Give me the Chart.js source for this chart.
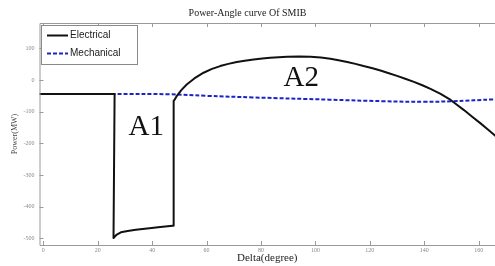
<!DOCTYPE html>
<html>
<head>
<meta charset="utf-8">
<script src="https://cdn.jsdelivr.net/npm/chart.js@4"></script>
<style>
  html, body { margin: 0; padding: 0; background: #fff; overflow: hidden; }
  #wrap { width: 495px; height: 266px; }
</style>
</head>
<body>
<div id="wrap"><canvas id="grafica" width="495" height="266"></canvas></div>
<script>
// Datos
const elecDelta = [-1.4, 26.2, 25.8, 27, 28.5, 31, 34, 39, 43, 47.5, 47.7, 47.9, 48.2, 49.1, 50.8, 52.7, 55.5, 58.9, 62, 65, 68, 71.1, 74, 77.3, 80.5, 83.4, 86.5, 89.6, 94, 98.2, 102, 105.5, 108.5, 111.7, 114.7, 117.7, 121, 123.9, 127, 130, 133, 136.2, 139.3, 142.3, 146, 149.7, 152, 154.6, 157.5, 160.7, 163.5, 166.2];
const elecPower = [-44, -44, -499, -488, -481, -477, -473, -468, -464, -460, -460, -66, -63, -50, -31, -14, 5, 23, 35, 44, 51, 57, 61, 65, 68, 70, 72, 73.5, 74, 73.5, 71, 67, 62.5, 57, 51, 44, 37, 30, 21.5, 13, 4, -6, -16.5, -28, -44, -63, -78, -95, -115, -137, -157, -177];
const mecDelta = [-1.4, 26, 46, 60, 77, 105, 125, 140, 150, 166];
const mecPower = [-44, -44, -45, -50, -55, -62, -67, -69, -67, -61];
const xTicks = [0, 20, 40, 60, 80, 100, 120, 140, 160];
const yTicks = [-500, -400, -300, -200, -100, 0, 100];
const leyenda = ["Electrical", "Mechanical"];
const areas = [{ label: "A1", x: 37.8, y: -150 }, { label: "A2", x: 94.8, y: 4 }];

const toPoints = (xs, ys) => xs.map((x, i) => ({ x: x, y: ys[i] }));

// Ejes tipo MATLAB: caja con ticks hacia dentro
const ejes = {
  id: "ejes",
  afterDraw(chart) {
    const { ctx, chartArea: a, scales } = chart;
    ctx.save();
    ctx.strokeStyle = "#9a9a9a";
    ctx.lineWidth = 1;
    ctx.beginPath();
    ctx.moveTo(a.right, a.top + 0.5); ctx.lineTo(a.left + 0.5, a.top + 0.5);
    ctx.lineTo(a.left + 0.5, a.bottom + 0.5); ctx.lineTo(a.right, a.bottom + 0.5);
    scales.x.ticks.forEach(t => {
      const px = Math.round(scales.x.getPixelForValue(t.value)) + 0.5;
      ctx.moveTo(px, a.bottom); ctx.lineTo(px, a.bottom - 4);
      ctx.moveTo(px, a.top); ctx.lineTo(px, a.top + 4);
    });
    scales.y.ticks.forEach(t => {
      const py = Math.round(scales.y.getPixelForValue(t.value)) + 0.5;
      ctx.moveTo(a.left, py); ctx.lineTo(a.left + 4, py);
    });
    ctx.stroke();

    // leyenda dentro del area
    const lx = a.left + 1.5, ly = a.top + 2;
    ctx.fillStyle = "#fff";
    ctx.fillRect(lx, ly, 96, 39);
    ctx.strokeStyle = "#8a8a8a";
    ctx.strokeRect(lx + 0.5, ly + 0.5, 96, 39);
    ctx.font = "10px 'Liberation Sans', Arial, sans-serif";
    ctx.textBaseline = "middle";
    ctx.lineWidth = 2;
    ctx.strokeStyle = "#111";
    ctx.beginPath(); ctx.moveTo(lx + 6, ly + 10.5); ctx.lineTo(lx + 27, ly + 10.5); ctx.stroke();
    ctx.strokeStyle = "#1c22c8";
    ctx.setLineDash([4, 2]);
    ctx.beginPath(); ctx.moveTo(lx + 6, ly + 28.5); ctx.lineTo(lx + 27, ly + 28.5); ctx.stroke();
    ctx.setLineDash([]);
    ctx.fillStyle = "#222";
    ctx.fillText(leyenda[0], lx + 29, ly + 10.5);
    ctx.fillText(leyenda[1], lx + 29, ly + 28.5);
    ctx.restore();
  },
  afterDatasetsDraw(chart) {
    const { ctx, scales } = chart;
    ctx.save();
    ctx.fillStyle = "#111";
    ctx.font = "29px 'Liberation Serif', 'Times New Roman', serif";
    ctx.textAlign = "center";
    ctx.textBaseline = "middle";
    areas.forEach(ar => {
      ctx.fillText(ar.label, scales.x.getPixelForValue(ar.x), scales.y.getPixelForValue(ar.y));
    });
    ctx.restore();
  }
};

const ctx = document.getElementById("grafica").getContext("2d");
new Chart(ctx, {
  type: "scatter",
  data: {
    datasets: [{
      label: leyenda[0],
      data: toPoints(elecDelta, elecPower),
      showLine: true,
      borderColor: "#111",
      borderWidth: 2,
      borderJoinStyle: "round",
      pointRadius: 0,
      tension: 0
    }, {
      label: leyenda[1],
      data: toPoints(mecDelta, mecPower),
      showLine: true,
      borderColor: "#1c22c8",
      borderWidth: 2,
      borderDash: [4, 2],
      pointRadius: 0,
      tension: 0.4
    }]
  },
  options: {
    responsive: false,
    animation: false,
    layout: { padding: 0 },
    plugins: {
      legend: { display: false },
      tooltip: { enabled: false },
      title: {
        display: true,
        text: "Power-Angle curve Of SMIB",
        color: "#222",
        font: { family: "'Liberation Serif', 'Times New Roman', serif", size: 10, weight: "normal" },
        padding: { top: 7, bottom: 4 }
      }
    },
    scales: {
      x: {
        type: "linear",
        min: -1.4,
        max: 166,
        afterBuildTicks: s => { s.ticks = xTicks.map(v => ({ value: v })); },
        afterFit: s => { s.height = 21; },
        grid: { display: false, drawTicks: false },
        border: { display: false },
        ticks: {
          color: "#888",
          padding: 2,
          maxRotation: 0,
          autoSkip: false,
          font: { family: "'Liberation Serif', serif", size: 6 }
        },
        title: {
          display: true,
          text: "Delta(degree)",
          color: "#222",
          padding: { top: 0, bottom: 1 },
          font: { family: "'Liberation Serif', 'Times New Roman', serif", size: 11 }
        }
      },
      y: {
        min: -521,
        max: 180,
        afterBuildTicks: s => { s.ticks = yTicks.map(v => ({ value: v })); },
        afterFit: s => { s.width = 39.5; },
        grid: { display: false, drawTicks: false },
        border: { display: false },
        ticks: {
          color: "#888",
          padding: 5,
          autoSkip: false,
          font: { family: "'Liberation Serif', serif", size: 6 }
        },
        title: {
          display: true,
          text: "Power(MW)",
          color: "#444",
          padding: { top: 10, bottom: 0 },
          font: { family: "'Liberation Serif', 'Times New Roman', serif", size: 8 }
        }
      }
    }
  },
  plugins: [ejes]
});
</script>
</body>
</html>
